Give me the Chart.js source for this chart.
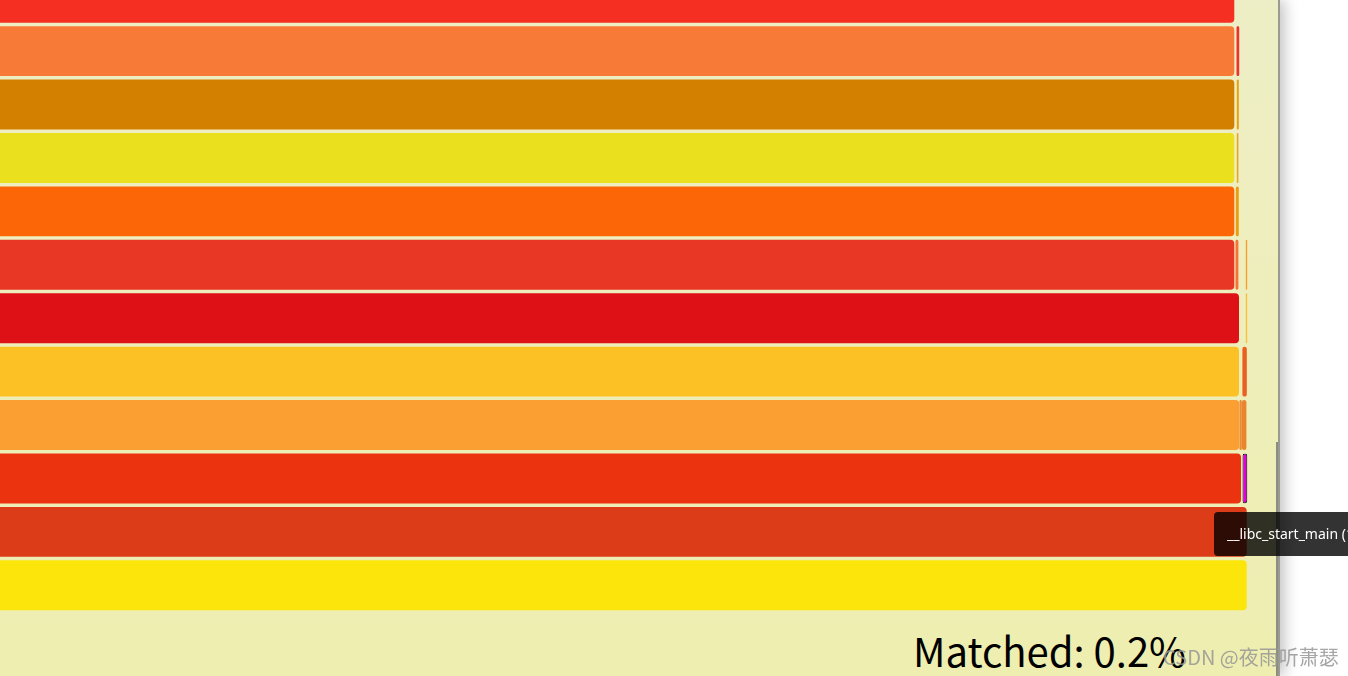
<!DOCTYPE html>
<html>
<head>
<meta charset="utf-8">
<script src="https://cdn.jsdelivr.net/npm/chart.js@4/dist/chart.umd.min.js"></script>
<style>
  html, body { margin: 0; padding: 0; width: 1348px; height: 676px; overflow: hidden; background: #fff; }
  #panel {
    position: absolute; left: 0; top: 0; width: 1278px; height: 676px; overflow: hidden;
    background: linear-gradient(#eeeec6, #eeeeb0);
    border-right: 2px solid #9a9a90;
    box-shadow: 4px 0 14px rgba(0,0,0,0.25);
  }
  #chartBox { position: absolute; left: 0; top: -29px; width: 1278px; height: 641px; }
  #scroll { position: absolute; left: 1276px; top: 442px; width: 2px; height: 234px; background: #8c8c84; }
  #matched {
    position: absolute; left: 913px; top: 622px; font-family: "Noto Sans CJK SC", "Noto Sans", sans-serif;
    font-size: 40px; color: #000; white-space: nowrap; line-height: 56px;
  }
  #tip {
    position: absolute; left: 1214px; top: 512px; height: 44px; padding: 0 13px; border-radius: 4px;
    background: rgba(0,0,0,0.8); color: #fff; font-family: "Noto Sans", sans-serif; font-size: 14px;
    line-height: 44px; white-space: nowrap;
  }
  #mark {
    position: absolute; left: 1163px; top: 643px; font-family: "Noto Sans CJK SC", sans-serif;
    font-size: 20px; color: rgba(150,150,150,0.85); white-space: nowrap; line-height: 28px;
  }
</style>
</head>
<body>
<div id="panel">
  <div id="chartBox"><canvas id="flame"></canvas></div>
  <div id="matched">Matched: 0.2%</div>
</div>
<div id="scroll"></div>
<div id="tip">__libc_start_main (1,024 samples, 100.00%)</div>
<div id="mark">CSDN @夜雨听萧瑟</div>
<script>
// frames, top row first (the top row is partly cut off)
const frames = ['frame_11', 'frame_10', 'frame_9', 'frame_8', 'frame_7', 'frame_6',
                'frame_5', 'frame_4', 'frame_3', 'main', '__libc_start_main', 'all'];

// sample ranges, the main frames begin left of the visible window
const frameStart = [-10, -10, -10, -10, -10, -10, -10, -10, -10, -10, -10, -10];
const frameEnd = [1234.3, 1234.3, 1234.3, 1234.3, 1234.3, 1234.3, 1239, 1239, 1239.3, 1241, 1246.7, 1246.7];
const frameColors = ['#f52f22', '#f87a37', '#d38000', '#eae01e', '#fd6607', '#e93725',
                     '#de1216', '#fcc225', '#fb9f33', '#eb330f', '#dc3c18', '#fbe50a'];

// small sibling frames at the right edge
const childA = [null, [1236.5, 1239.2], [1236.8, 1238.8], [1236.8, 1238.4], [1235.8, 1238.8], [1235.5, 1238.4],
                [1245.8, 1247.2], [1242.4, 1246.8], [1239.5, 1241.8], [1242.5, 1247.3], null, null];
const childAColors = ['#000', '#f0302a', '#e9a010', '#e8a51f', '#e8a010', '#f77235',
                      '#f8c040', '#e96020', '#e98a35', '#e000e0', '#000', '#000'];
const childB = [null, null, null, null, null, [1245.8, 1247.2], null, null, [1241.9, 1246.4], null, null, null];
const childBColors = ['#000', '#000', '#000', '#000', '#000', '#f7a030', '#000', '#000', '#e9852f', '#000', '#000', '#000'];

const ctx = document.getElementById('flame').getContext('2d');

const mainData = frames.map((f, i) => [frameStart[i], frameEnd[i]]);

const flameChart = new Chart(ctx, {
    type: 'bar',
    data: {
        labels: frames,
        datasets: [{
            data: mainData,
            backgroundColor: frameColors,
            borderRadius: 4,
            borderSkipped: false,
            grouped: false,
            categoryPercentage: 1,
            barPercentage: 0.936
        }, {
            data: childA,
            backgroundColor: childAColors,
            borderColor: frames.map((f, i) => i === 9 ? '#000' : 'rgba(0,0,0,0)'),
            borderWidth: frames.map((f, i) => i === 9 ? 1 : 0),
            borderRadius: 3,
            borderSkipped: false,
            grouped: false,
            categoryPercentage: 1,
            barPercentage: 0.936
        }, {
            data: childB,
            backgroundColor: childBColors,
            borderRadius: 3,
            borderSkipped: false,
            grouped: false,
            categoryPercentage: 1,
            barPercentage: 0.936
        }]
    },
    options: {
        indexAxis: 'y',
        responsive: true,
        maintainAspectRatio: false,
        animation: false,
        layout: { padding: 0 },
        plugins: {
            legend: { display: false },
            tooltip: { enabled: false }
        },
        scales: {
            x: { type: 'linear', min: 0, max: 1278, display: false },
            y: { display: false }
        }
    }
});
</script>
</body>
</html>
